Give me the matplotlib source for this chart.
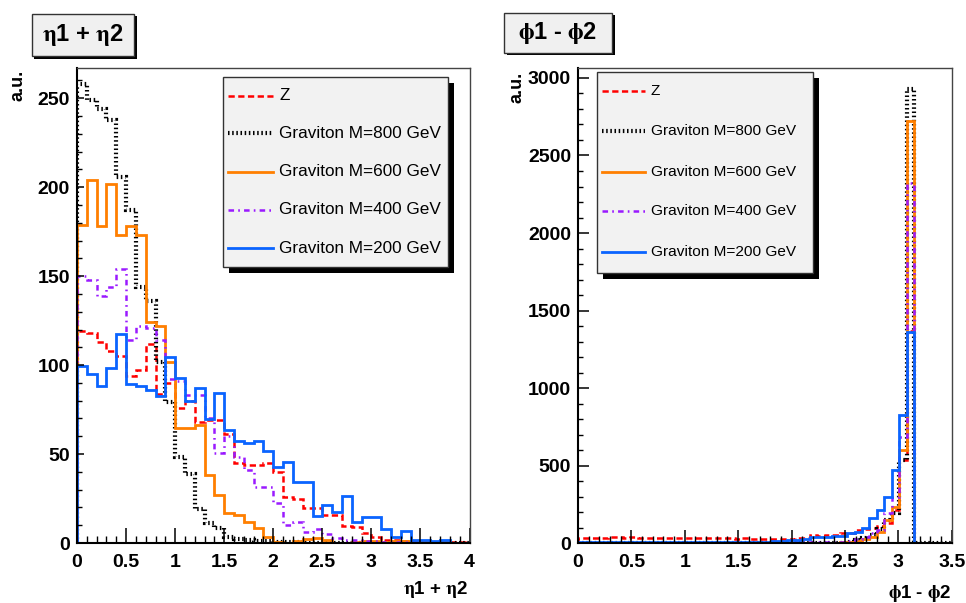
import numpy as np
import matplotlib
matplotlib.use("Agg")
import matplotlib.pyplot as plt
from matplotlib.patches import Rectangle
from matplotlib.lines import Line2D
from matplotlib.ticker import MultipleLocator, FuncFormatter

plt.rcParams['font.family'] = ['Liberation Sans', 'DejaVu Sans']
plt.rcParams['font.weight'] = 'bold'
plt.rcParams['mathtext.fontset'] = 'stix'
plt.rcParams['lines.scale_dashes'] = False

labels = ["Z", "Graviton M=800 GeV", "Graviton M=600 GeV",
          "Graviton M=400 GeV", "Graviton M=200 GeV"]

# eta1 + eta2 : 40 bins of 0.1 from 0 to 4
eta_edges = np.round(np.arange(41) * 0.1, 2)
z_eta = [119, 118, 113, 108, 105, 94, 97, 112, 84, 90,
         76, 80, 68, 69, 69, 61, 45, 44, 44, 45,
         40, 26, 25, 19.5, 19.5, 16, 16, 9.6, 9.2, 5.4,
         3.6, 1.7, 1.5, 1, 1, 1, 0.5, 0.5, 0.5, 0.5]
g800_eta = [258, 249, 244, 238, 206, 187, 144, 136, 102, 79,
            48.6, 38.7, 19, 11, 8.4, 3.5, 2, 1.5, 1, 1,
            0.5, 0.5, 0.3, 0, 0, 0, 0, 0, 0, 0,
            0, 0, 0, 0, 0, 0, 0, 0, 0, 0]
g600_eta = [179, 204, 178, 202, 173, 178, 173, 124, 122, 102,
            64.6, 64.6, 66.4, 38.3, 27, 16.7, 15.8, 12, 8.3, 3.6,
            0.8, 0, 1, 2.5, 3, 1.5, 0, 0, 0.5, 1,
            1, 0.5, 1, 1, 1, 0.5, 0.5, 0.5, 0, 0]
g400_eta = [150, 148, 139, 144, 154, 114, 122, 121, 114, 92,
            91, 83, 83, 70, 50.6, 60, 48.6, 41, 31.7, 31.7,
            22.5, 10, 12, 6, 8, 5, 3, 1.7, 1.5, 1,
            1, 0.5, 0.5, 0.5, 0.3, 0, 0, 0, 0, 0]
g200_eta = [99.3, 95, 88, 98.4, 117.5, 89.5, 88, 85.8, 82.4, 104.5,
            92.5, 79.6, 87, 69.5, 84.5, 63.6, 57.5, 56.3, 57.5, 51.5,
            42.8, 45.6, 34.5, 34.5, 15.4, 21.4, 17.6, 26.5, 11.6, 14.5,
            14.5, 7.7, 3.6, 7, 1.7, 1.7, 1, 1.7, 0, 0]

# phi1 - phi2 : 50 bins of 0.07 from 0 to 3.5
phi_edges = np.round(np.arange(51) * 0.07, 2)
z_phi = [35, 32, 34, 36, 38, 39, 37, 39, 36, 35,
         37, 33, 36, 34, 35, 32, 36, 33, 34, 31,
         33, 30, 32, 29, 30, 28, 26, 29, 27, 31,
         35, 53, 50, 55, 53, 64, 64, 86, 90, 100,
         112, 129, 215, 537, 1370, 0, 0, 0, 0, 0]
g800_phi = [1, 1, 1, 1, 1, 1, 1, 1, 1, 1,
            1, 1, 1, 1, 1, 1, 1, 1, 1, 1,
            1, 1, 1, 1, 1, 1, 1, 1, 1, 2,
            2, 2, 2, 3, 3, 5, 10, 20, 35, 55,
            90, 147, 195, 540, 2930, 0, 0, 0, 0, 0]
g600_phi = [1, 1, 1, 1, 1, 1, 1, 1, 1, 1,
            1, 1, 1, 1, 1, 1, 1, 1, 1, 1,
            1, 1, 1, 1, 1, 2, 2, 2, 2, 2,
            3, 3, 3, 3, 4, 6, 9, 15, 26, 43,
            75, 150, 236, 602, 2720, 0, 0, 0, 0, 0]
g400_phi = [4, 5, 4, 5, 4, 5, 4, 5, 4, 5,
            4, 5, 4, 5, 4, 5, 4, 5, 4, 5,
            4, 5, 5, 4, 5, 5, 5, 6, 5, 6,
            6, 6, 7, 7, 8, 11, 17, 26, 43, 64,
            86, 195, 301, 688, 2320, 0, 0, 0, 0, 0]
g200_phi = [8, 7, 8, 8, 7, 8, 8, 7, 8, 8,
            7, 8, 8, 7, 8, 8, 7, 8, 8, 7,
            8, 8, 7, 8, 8, 10, 14, 18, 21, 22,
            30, 39, 40, 43, 45, 50, 64, 71, 100, 161,
            215, 301, 473, 828, 1365, 0, 0, 0, 0, 0]

styles = [
    dict(color='#ff0000', lw=1.8, ls=(0, (4.5, 2.5))),
    dict(color='black', lw=3.0, ls=(0, (1.1, 1.9))),
    dict(color='#ff7f00', lw=2.0, ls='-'),
    dict(color='#9a1aff', lw=1.8, ls=(0, (4, 3, 1.2, 3))),
    dict(color='#0a64ff', lw=2.0, ls='-'),
]

W, H = 966, 603
fig = plt.figure(figsize=(9.66, 6.03), dpi=100)


def fx(x):
    return x / W


def fy(y):
    return 1 - y / H


def box(x0, y0, x1, y1, shadow, face='#f0f0f0'):
    fig.add_artist(Rectangle((fx(x0 + shadow), fy(y1 + shadow)), fx(x1 - x0), (y1 - y0) / H,
                             transform=fig.transFigure, facecolor='black', edgecolor='none'))
    fig.add_artist(Rectangle((fx(x0), fy(y1)), fx(x1 - x0), (y1 - y0) / H,
                             transform=fig.transFigure, facecolor=face, edgecolor='#333333', lw=1.0))


def panel(px, edges, series, ymax, ymaj, ymin, xticklen, yticklen):
    x0, y0, x1, y1 = px
    ax = fig.add_axes([fx(x0), fy(y1), fx(x1 - x0), (y1 - y0) / H])
    for vals, st in zip(series, styles):
        ax.stairs(vals, edges, color=st['color'], lw=st['lw'], linestyle=st['ls'])
    ax.set_xlim(edges[0], edges[-1])
    ax.set_ylim(0, ymax)
    ax.xaxis.set_major_locator(MultipleLocator(0.5))
    ax.xaxis.set_minor_locator(MultipleLocator(0.1))
    ax.yaxis.set_major_locator(MultipleLocator(ymaj))
    ax.yaxis.set_minor_locator(MultipleLocator(ymin))
    ax.xaxis.set_major_formatter(FuncFormatter(lambda v, p: '%g' % v))
    ax.tick_params(axis='x', which='major', direction='in', length=xticklen[0], width=1.1,
                   labelsize=14, pad=8, top=False)
    ax.tick_params(axis='x', which='minor', direction='in', length=xticklen[1], width=1.0, top=False)
    ax.tick_params(axis='y', which='major', direction='in', length=yticklen[0], width=1.1,
                   labelsize=14, pad=5, right=False)
    ax.tick_params(axis='y', which='minor', direction='in', length=yticklen[1], width=1.0, right=False)
    for s in ['left', 'bottom']:
        ax.spines[s].set_linewidth(1.5)
        ax.spines[s].set_color('black')
    for s in ['top', 'right']:
        ax.spines[s].set_linewidth(1.0)
        ax.spines[s].set_color('#444444')
    return ax


def legend(bx, rows, sample, text_x, fs):
    box(bx[0], bx[1], bx[2], bx[3], 6, face='#f2f2f2')
    for yy, st, lab in zip(rows, styles, labels):
        fig.add_artist(Line2D([fx(sample[0]), fx(sample[1])], [fy(yy), fy(yy)],
                              transform=fig.transFigure, color=st['color'], lw=st['lw'],
                              linestyle=st['ls']))
        fig.text(fx(text_x), fy(yy), lab, fontsize=fs, fontweight='normal',
                 ha='left', va='center')


eta_sum = r'$\mathrm{\eta}$1 + $\mathrm{\eta}$2'
phi_diff = r'$\mathrm{\phi}$1 - $\mathrm{\phi}$2'

# left pad
panel((77, 68, 469.5, 543), eta_edges, [z_eta, g800_eta, g600_eta, g400_eta, g200_eta],
      267, 50, 10, (10.5, 5), (4.8, 3.6))
box(31.7, 14, 134, 56, 2.5)
fig.text(fx(83), fy(35), eta_sum, fontsize=17, ha='center', va='center')
fig.text(fx(18), fy(70), 'a.u.', fontsize=13, rotation=90, ha='center', va='top')
fig.text(fx(468), fy(590), eta_sum, fontsize=13.5, ha='right', va='center')
legend((222.7, 77.3, 447.7, 267.3), [95.7, 133.3, 171.7, 210, 248.3], (228, 273), 279, 12.3)

# right pad
panel((578, 68, 951.7, 543.3), phi_edges, [z_phi, g800_phi, g600_phi, g400_phi, g200_phi],
      3064, 500, 100, (9.4, 4.8), (7.9, 3.6))
box(504.3, 12.7, 612, 52.7, 2.5)
fig.text(fx(558), fy(33), phi_diff, fontsize=17, ha='center', va='center')
fig.text(fx(516.5), fy(71.7), 'a.u.', fontsize=13, rotation=90, ha='center', va='top')
fig.text(fx(951.7), fy(593), phi_diff, fontsize=13.5, ha='right', va='center')
legend((596.7, 71.7, 812.7, 272.7), [90.7, 131, 171.7, 211, 252.3], (602, 645), 650.7, 11.1)

fig.savefig("out.png", dpi=100)
